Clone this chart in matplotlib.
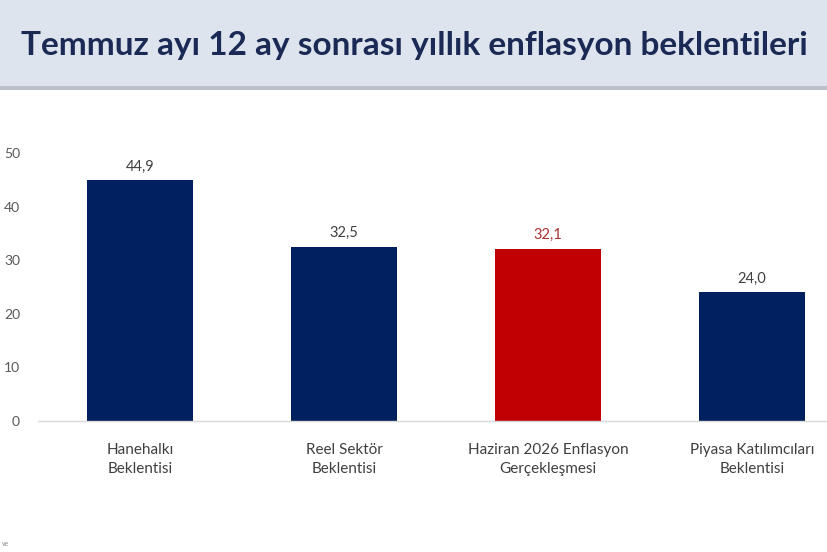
import matplotlib
matplotlib.use("Agg")
import matplotlib.pyplot as plt
from matplotlib.patches import Rectangle

# data
categories = ["Hanehalkı\nBeklentisi", "Reel Sektör\nBeklentisi",
              "Haziran 2026 Enflasyon\nGerçekleşmesi", "Piyasa Katılımcıları\nBeklentisi"]
values = [44.9, 32.5, 32.1, 24.0]
bar_colors = ["#002060", "#002060", "#c00000", "#002060"]
label_colors = ["#404040", "#404040", "#a83232", "#404040"]
yticks = [0, 10, 20, 30, 40, 50]
title = "Temmuz ayı 12 ay sonrası yıllık enflasyon beklentileri"

plt.rcParams['font.family'] = ['Lato', 'DejaVu Sans']

fig = plt.figure(figsize=(8.28, 5.52), dpi=100)
W, H = 828, 552

# title banner
fig.patches.append(Rectangle((0, 1 - 86 / H), 1, 86 / H, transform=fig.transFigure,
                             facecolor="#dde4ee", edgecolor="none", zorder=0))
fig.patches.append(Rectangle((0, 1 - 90 / H), 1, 4 / H, transform=fig.transFigure,
                             facecolor="#bcc1c9", edgecolor="none", zorder=0))
fig.text(0.5, 1 - 46 / H, title, ha="center", va="center", fontsize=24,
         fontweight="bold", color="#1b2a55")

# axes: y=0 at px 421, y=50 at px 153, x from -0.5 at px 38, step 204 px
y0, y50 = 421, 153
ax = fig.add_axes([38 / W, 1 - y0 / H, 816 / W, (y0 - y50) / H])
x = list(range(len(values)))
ax.bar(x, values, width=0.515, color=bar_colors, zorder=2)
ax.set_xlim(-0.5, 3.5)
ax.set_ylim(0, 50)
ax.set_yticks(yticks)
ax.set_yticklabels([str(t) for t in yticks], fontsize=10, color="#595959")
ax.tick_params(axis="y", length=0, pad=13)
ax.tick_params(axis="x", length=0, pad=16)
ax.set_xticks(x)
ax.set_xticklabels(categories, fontsize=11, color="#404040", linespacing=1.45)
for s in ["top", "right", "left"]:
    ax.spines[s].set_visible(False)
ax.spines["bottom"].set_color("#d9d9d9")
ax.spines["bottom"].set_linewidth(1)

for xi, v, c in zip(x, values, label_colors):
    ax.annotate(f"{v:.1f}".replace(".", ","), (xi, v), xytext=(0, 5),
                textcoords="offset points", ha="center", va="bottom",
                fontsize=10.5, color=c)

fig.text(2 / W, 1 - 543 / H, "ve", fontsize=5, color="#8a8a8a", va="center")

fig.savefig("out.png", dpi=100)
